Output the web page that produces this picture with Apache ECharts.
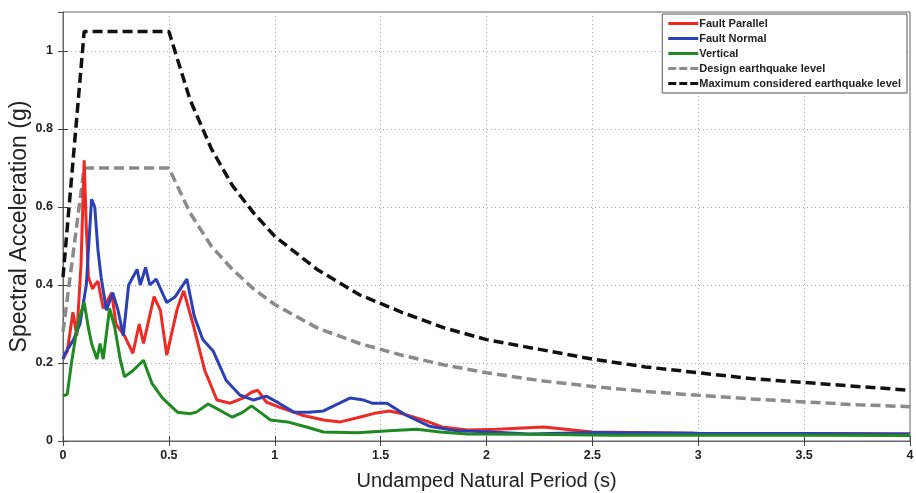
<!DOCTYPE html>
<html>
<head>
<meta charset="utf-8">
<script src="https://cdn.jsdelivr.net/npm/echarts@6/dist/echarts.min.js"></script>
<style>
  html, body { margin: 0; padding: 0; background: #fff; }
  #chart { width: 916px; height: 493px; }
</style>
</head>
<body>
<div id="chart"></div>
<script>
// period (s), spectral acceleration (g)
var faultParallel = [
  [0, 0.21], [0.02, 0.23], [0.047, 0.33], [0.065, 0.27], [0.085, 0.45], [0.1, 0.72],
  [0.11, 0.55], [0.12, 0.42], [0.14, 0.39], [0.15, 0.40], [0.165, 0.41], [0.19, 0.34],
  [0.23, 0.38], [0.25, 0.30], [0.29, 0.27], [0.33, 0.225], [0.36, 0.30], [0.38, 0.25],
  [0.43, 0.37], [0.46, 0.335], [0.49, 0.22], [0.54, 0.34], [0.57, 0.385], [0.614, 0.30],
  [0.67, 0.18], [0.727, 0.105], [0.79, 0.097], [0.85, 0.11], [0.89, 0.125], [0.92, 0.13],
  [0.96, 0.10], [1.02, 0.087], [1.09, 0.074], [1.13, 0.066], [1.23, 0.054], [1.31, 0.049],
  [1.40, 0.061], [1.48, 0.072], [1.54, 0.077], [1.61, 0.069], [1.70, 0.054], [1.79, 0.036],
  [1.91, 0.028], [2.05, 0.030], [2.27, 0.036], [2.5, 0.023], [2.98, 0.02], [3.5, 0.019],
  [3.92, 0.018], [4, 0.018]
];
var faultNormal = [
  [0, 0.21], [0.01, 0.225], [0.05, 0.26], [0.08, 0.30], [0.11, 0.40], [0.135, 0.62],
  [0.15, 0.60], [0.165, 0.49], [0.18, 0.42], [0.205, 0.335], [0.235, 0.38], [0.26, 0.335],
  [0.285, 0.27], [0.31, 0.40], [0.35, 0.44], [0.365, 0.40], [0.39, 0.445], [0.41, 0.40],
  [0.44, 0.415], [0.49, 0.355], [0.53, 0.37], [0.585, 0.415], [0.62, 0.32], [0.66, 0.26],
  [0.71, 0.23], [0.77, 0.156], [0.835, 0.118], [0.90, 0.105], [0.96, 0.115], [1.02, 0.097],
  [1.09, 0.074], [1.16, 0.074], [1.23, 0.077], [1.355, 0.11], [1.42, 0.105], [1.46, 0.097],
  [1.53, 0.097], [1.62, 0.066], [1.73, 0.038], [1.86, 0.026], [2.0, 0.024], [2.2, 0.018],
  [2.5, 0.022], [3.0, 0.02], [3.5, 0.019], [4, 0.018]
];
var vertical = [
  [0, 0.115], [0.02, 0.12], [0.04, 0.20], [0.065, 0.285], [0.08, 0.32], [0.1, 0.355],
  [0.12, 0.29], [0.135, 0.25], [0.16, 0.21], [0.175, 0.25], [0.19, 0.21], [0.22, 0.34],
  [0.245, 0.29], [0.27, 0.21], [0.29, 0.165], [0.33, 0.18], [0.38, 0.207], [0.42, 0.148],
  [0.47, 0.11], [0.54, 0.074], [0.6, 0.07], [0.63, 0.074], [0.685, 0.095], [0.74, 0.079],
  [0.80, 0.061], [0.85, 0.074], [0.89, 0.09], [0.93, 0.074], [0.98, 0.054], [1.06, 0.049],
  [1.15, 0.036], [1.23, 0.023], [1.39, 0.021], [1.54, 0.026], [1.67, 0.03], [1.78, 0.023],
  [1.91, 0.018], [2.2, 0.017], [2.6, 0.015], [3.0, 0.015], [3.5, 0.015], [4, 0.014]
];
var designLevel = [
  [0, 0.28], [0.1, 0.70], [0.5, 0.70], [0.6, 0.585], [0.7, 0.50], [0.8, 0.44], [0.9, 0.39],
  [1.0, 0.35], [1.2, 0.29], [1.4, 0.25], [1.6, 0.22], [1.8, 0.195], [2.0, 0.175],
  [2.25, 0.155], [2.5, 0.14], [2.75, 0.127], [3.0, 0.117], [3.25, 0.108], [3.5, 0.10],
  [3.75, 0.093], [4.0, 0.088]
];
var mceLevel = [
  [0, 0.42], [0.1, 1.05], [0.5, 1.05], [0.6, 0.875], [0.7, 0.75], [0.8, 0.655], [0.9, 0.585],
  [1.0, 0.525], [1.2, 0.44], [1.4, 0.375], [1.6, 0.33], [1.8, 0.29], [2.0, 0.26],
  [2.25, 0.235], [2.5, 0.21], [2.75, 0.19], [3.0, 0.175], [3.25, 0.16], [3.5, 0.15],
  [3.75, 0.14], [4.0, 0.13]
];
var seriesNames = ['Fault Parallel', 'Fault Normal', 'Vertical', 'Design earthquake level', 'Maximum considered earthquake level'];

var chart = echarts.init(document.getElementById('chart'));
var sans = 'Liberation Sans, Arial, sans-serif';
var labelFont = { fontFamily: sans, fontWeight: 'bold', fontSize: 12.5, color: '#222' };
var gridLine = { show: true, lineStyle: { color: '#aaa', type: [1, 3], width: 1 } };
var solidIcon = 'path://M0,0h30v3h-30z';
var dashIcon = 'path://M0,0h8v3h-8zM11,0h8v3h-8zM22,0h8v3h-8z';

function lineSeries(name, data, color, width, dash) {
  return {
    name: name, type: 'line', data: data, symbol: 'none', smooth: false,
    lineStyle: { color: color, width: width, type: dash || 'solid' },
    itemStyle: { color: color },
    z: dash ? 3 : 4
  };
}

chart.setOption({
  animation: false,
  backgroundColor: '#fff',
  grid: { left: 63, right: 6, top: 12, bottom: 52, outerBoundsMode: 'none', show: true, borderColor: '#666', borderWidth: 1 },
  legend: {
    data: seriesNames.map(function (n, i) { return { name: n, icon: i < 3 ? solidIcon : dashIcon }; }),
    orient: 'vertical', right: 9, top: 14,
    itemWidth: 30, itemHeight: 3, itemGap: 4,
    backgroundColor: '#fff', borderColor: '#555', borderWidth: 1, padding: [4, 6],
    textStyle: { fontFamily: sans, fontWeight: 'bold', fontSize: 11, color: '#222', padding: [0, 0, 0, -4] }
  },
  xAxis: [{
    type: 'value', min: 0, max: 4, interval: 0.5,
    name: 'Undamped Natural Period (s)', nameLocation: 'middle', nameGap: 30,
    nameTextStyle: { fontFamily: sans, fontSize: 20, color: '#222' },
    axisLine: { show: true, lineStyle: { color: '#666' } },
    axisTick: { show: true, inside: true, length: 5, lineStyle: { color: '#444' } },
    axisLabel: Object.assign({ margin: 8 }, labelFont),
    splitLine: gridLine
  }, {
    type: 'value', position: 'top', min: 0, max: 4, interval: 0.5,
    axisLine: { show: true, lineStyle: { color: '#666' } },
    axisTick: { show: true, inside: true, length: 5, lineStyle: { color: '#444' } },
    axisLabel: { show: false }, splitLine: { show: false }
  }],
  yAxis: [{
    type: 'value', min: 0, max: 1.1, interval: 0.2,
    name: 'Spectral Acceleration (g)', nameLocation: 'middle', nameGap: 32, nameMoveOverlap: false,
    nameTextStyle: { fontFamily: sans, fontSize: 23, color: '#222' },
    axisLine: { show: true, lineStyle: { color: '#666' } },
    axisTick: { show: true, inside: true, length: 5, lineStyle: { color: '#444' } },
    axisLabel: Object.assign({ margin: 10, showMaxLabel: false }, labelFont),
    splitLine: gridLine
  }, {
    type: 'value', position: 'right', min: 0, max: 1.1, interval: 0.2,
    axisLine: { show: true, lineStyle: { color: '#666' } },
    axisTick: { show: true, inside: true, length: 5, lineStyle: { color: '#444' } },
    axisLabel: { show: false }, splitLine: { show: false }
  }],
  series: [
    lineSeries(seriesNames[0], faultParallel, '#ee2a24', 3),
    lineSeries(seriesNames[1], faultNormal, '#2b40b4', 3),
    lineSeries(seriesNames[2], vertical, '#1f8a22', 3),
    lineSeries(seriesNames[3], designLevel, '#8a8a8a', 3.5, [10, 5]),
    lineSeries(seriesNames[4], mceLevel, '#111', 3.5, [10, 5])
  ]
});
</script>
</body>
</html>
